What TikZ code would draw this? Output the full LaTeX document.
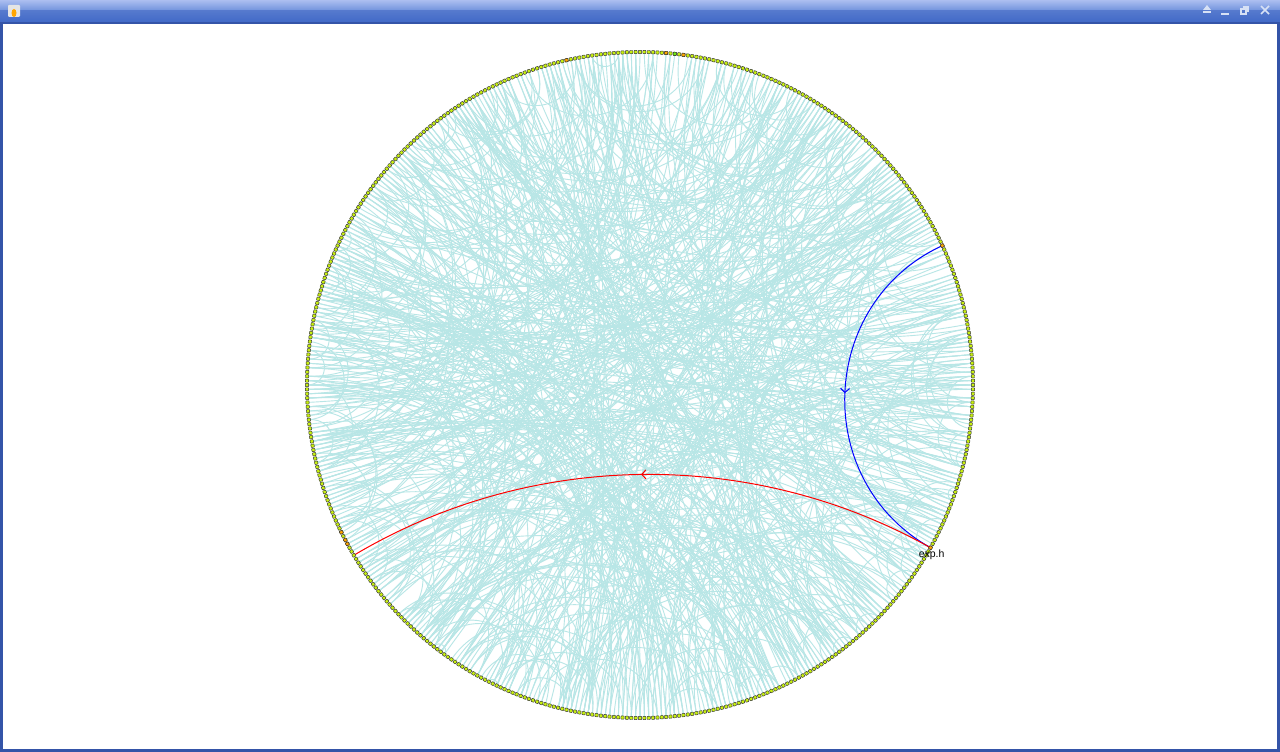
\documentclass[tikz,border=0pt]{standalone}
\usepackage{fontspec}
\setmainfont{Liberation Sans}
\usetikzlibrary{positioning,backgrounds,decorations.markings,arrows.meta}
\definecolor{edgecyan}{RGB}{184,230,230}
\definecolor{vertexfill}{RGB}{200,240,15}
\definecolor{hilite}{RGB}{255,165,0}
\definecolor{brightgreen}{RGB}{110,230,20}
\definecolor{titletop}{RGB}{172,190,240}
\definecolor{titlemid}{RGB}{110,145,220}
\definecolor{titlebot}{RGB}{66,106,200}
\definecolor{frameblue}{RGB}{52,84,168}
\definecolor{glyph}{RGB}{215,225,245}
\tikzset{
  vertex/.style={draw=black!80, fill=vertexfill, rectangle, rounded corners=0.5pt, inner sep=0pt, minimum size=3.2pt, line width=0.45pt},
  picked/.style={vertex, fill=hilite},
  link/.style={draw=edgecyan, line width=0.9pt},
  midarrow/.style={postaction={decorate}, decoration={markings, mark=at position 0.5 with {\arrow{Straight Barb[length=4pt,width=9pt]}}}},
}
\begin{document}
\begin{tikzpicture}[x=1pt, y=1pt]
	\useasboundingbox (0,0) rectangle (1280,-752);
	
	% window frame
	\begin{scope}[on background layer]
	\fill[frameblue] (0,0) rectangle (1280,-752);
	\shade[top color=titletop, bottom color=titlemid] (0,0) rectangle (1280,-11);
	\shade[top color=titlebot!90!white, bottom color=titlebot] (0,-11) rectangle (1280,-22);
	\fill[white] (3,-24) rectangle (1277,-749);
	\end{scope}
	\node[fill=black!10, rounded corners=1pt, minimum size=12pt, inner sep=0pt] (icon) at (14,-11) {};
	\fill[hilite] (14,-13) ellipse (2.5pt and 4pt);
	\fill[glyph] (1203,-10) -- (1211,-10) -- (1207,-5) -- cycle;
	\fill[glyph] (1203,-11.5) rectangle (1211,-13);
	\fill[glyph] (1221,-13) rectangle (1229,-15);
	\draw[glyph, line width=1.2pt] (1241,-9) rectangle (1246,-14) (1243,-7) -- (1248,-7) -- (1248,-12);
	\draw[glyph, line width=1.6pt] (1261,-6) -- (1269,-14) (1261,-14) -- (1269,-6);
	
	\begin{scope}[shift={(640,-385)}]
	\foreach \i in {0,...,479}
		\node[vertex, rotate=\i*0.75] (n\i) at (\i*0.75:333) {};
	\foreach \i in {33,110,114,137,275,277,278,441}
		\node[picked, rotate=\i*0.75] (h\i) at (n\i) {};
	\node[vertex, fill=brightgreen, rotate=84] (h112) at (n112) {};
	\end{scope}
	
	\node[below=-0.5pt of n441, xshift=2pt, font=\fontsize{10.5}{12}\selectfont, inner sep=1pt] (explabel) {exp.h};
	
	% links, circular arcs tangent to the radii
	\begin{scope}[on background layer]
	\pgfmathsetseed{4117}
	\foreach \k in {1,...,700}{
		\pgfmathtruncatemacro\a{random(0,479)}
		\pgfmathtruncatemacro\b{mod(\a+random(1,479),480)}
		\pgfmathsetmacro\oa{\a*0.75+180}
		\pgfmathsetmacro\ob{\b*0.75+180}
		\pgfmathsetmacro\sep{min(abs(\a-\b),480-abs(\a-\b))*0.75}
		\pgfmathsetmacro\loos{1/(1.1745*cos((90-\sep/2)/2)^2)}
		\draw[link] (n\a.center) to[out=\oa, in=\ob, looseness=\loos] (n\b.center);
	}
	\draw[blue, line width=1pt, midarrow] (n33.center) to[out=204.75, in=150.75, looseness=1.16] (n441.center);
	\draw[red, line width=1pt, midarrow] (n441.center) to[out=150.75, in=30.75, looseness=0.91] (n281.center);
	\end{scope}
\end{tikzpicture}
\end{document}
